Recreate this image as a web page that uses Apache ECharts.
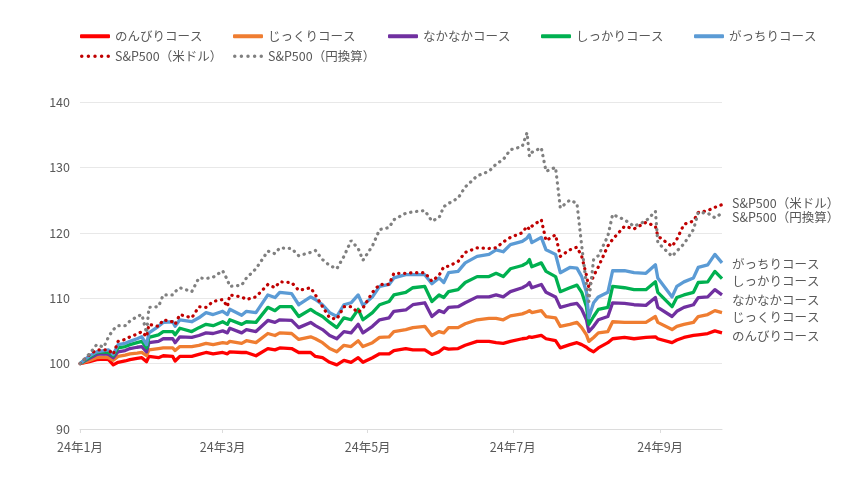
<!DOCTYPE html>
<html><head><meta charset="utf-8">
<script src="https://cdn.jsdelivr.net/npm/echarts@6/dist/echarts.min.js"></script>
<style>html,body{margin:0;padding:0;background:#fff}#c{width:860px;height:490px}</style>
</head><body><div id="c"></div>
<script>
const dates = ['2024-01-01','2024-01-05','2024-01-08','2024-01-11','2024-01-13','2024-01-15','2024-01-17','2024-01-20','2024-01-22','2024-01-25',
'2024-01-27','2024-01-29','2024-01-30','2024-02-03','2024-02-05','2024-02-09','2024-02-10','2024-02-12','2024-02-17','2024-02-20',
'2024-02-23','2024-02-26','2024-03-01','2024-03-03','2024-03-04','2024-03-09','2024-03-11','2024-03-15','2024-03-20','2024-03-23',
'2024-03-25','2024-03-30','2024-04-02','2024-04-07','2024-04-09','2024-04-12','2024-04-15','2024-04-18','2024-04-21','2024-04-24',
'2024-04-27','2024-04-29','2024-05-03','2024-05-06','2024-05-10','2024-05-12','2024-05-17','2024-05-20','2024-05-25','2024-05-28',
'2024-05-31','2024-06-02','2024-06-04','2024-06-08','2024-06-11','2024-06-16','2024-06-21','2024-06-24','2024-06-27','2024-06-30',
'2024-07-05','2024-07-07','2024-07-08','2024-07-09','2024-07-13','2024-07-15','2024-07-19','2024-07-21','2024-07-25','2024-07-28',
'2024-07-30','2024-08-01','2024-08-02','2024-08-04','2024-08-06','2024-08-10','2024-08-12','2024-08-17','2024-08-21','2024-08-26',
'2024-08-30','2024-08-31','2024-09-06','2024-09-08','2024-09-11','2024-09-15','2024-09-17','2024-09-21','2024-09-24','2024-09-27'];

const nonbiri = [100,100.3,100.6,100.7,100.6,99.8,100.2,100.4,100.6,100.8,
100.9,100.3,101.1,100.9,101.2,101.1,100.4,101.1,101.1,101.4,
101.7,101.5,101.7,101.5,101.8,101.7,101.7,101.2,102.3,102.1,
102.4,102.3,101.7,101.7,101.1,100.9,100.2,99.8,100.5,100.2,
100.9,100.2,100.9,101.5,101.5,102.0,102.3,102.1,102.1,101.4,
101.8,102.4,102.2,102.3,102.8,103.4,103.4,103.2,103.1,103.4,
103.8,103.9,104.1,104.0,104.3,103.8,103.5,102.4,102.9,103.2,
102.9,102.5,102.2,101.8,102.4,103.2,103.8,104.0,103.8,104.0,
104.1,103.8,103.2,103.6,104.0,104.3,104.4,104.6,105.0,104.7];

const jikkuri = [100,100.5,100.9,101.0,100.9,100.5,101.1,101.3,101.5,101.6,
101.7,101.2,102.1,102.3,102.4,102.4,102.0,102.6,102.6,102.8,
103.1,102.9,103.2,103.1,103.4,103.1,103.5,103.2,104.6,104.3,
104.7,104.6,103.7,104.1,103.8,103.2,102.3,101.8,102.8,102.6,
103.5,102.6,103.2,104.0,104.1,104.9,105.2,105.5,105.7,104.3,
104.9,104.7,105.5,105.5,106.1,106.7,106.9,106.9,106.7,107.3,
107.6,107.9,108.1,107.8,108.1,107.2,107.0,105.7,106.0,106.3,
105.5,104.4,103.4,104.0,104.7,104.9,106.4,106.3,106.3,106.3,
107.2,106.3,105.2,105.7,106.0,106.3,107.2,107.5,108.1,107.8];

const nakanaka = [100,100.8,101.4,101.5,101.4,100.9,101.8,102.0,102.3,102.5,
102.6,101.8,103.2,103.4,103.8,103.8,103.2,104.1,104.0,104.3,
104.7,104.6,105.0,104.7,105.4,104.7,105.2,104.9,106.6,106.3,
106.7,106.6,105.5,106.3,105.8,105.2,104.3,103.8,104.9,104.7,
106.0,104.7,105.7,106.7,107.0,108.0,108.2,109.0,109.3,107.2,
108.1,107.8,108.6,108.7,109.3,110.2,110.2,110.5,110.2,111.0,
111.6,112.0,112.4,111.6,112.1,110.9,110.2,108.6,109.0,109.2,
108.3,106.7,104.9,105.7,106.7,107.2,109.3,109.2,109.0,108.9,
110.1,108.6,107.2,108.0,108.6,109.0,110.1,110.2,111.3,110.5];

const shikkari = [100,101.0,101.7,101.8,101.7,101.2,102.4,102.6,102.9,103.2,
103.4,102.4,104.0,104.4,104.9,104.9,104.4,105.4,104.9,105.5,
106.0,105.8,106.4,106.0,106.7,106.0,106.4,106.3,108.6,108.1,
108.7,108.7,107.2,108.3,107.8,107.2,106.3,105.5,107.0,106.7,
108.3,106.7,107.8,109.0,109.5,110.5,110.9,111.6,111.8,109.5,
110.5,110.1,111.0,111.3,112.4,113.3,113.3,113.8,113.3,114.5,
115.0,115.4,115.9,114.8,115.4,114.1,113.3,111.0,111.6,112.0,
110.9,108.7,106.0,107.2,108.3,108.6,111.8,111.6,111.3,111.3,
112.5,110.9,108.7,110.1,110.5,110.9,112.4,112.5,114.1,113.0];

const gacchiri = [100,101.2,101.8,102.0,102.1,101.4,102.9,103.1,103.4,103.8,
104.1,102.9,104.7,105.7,106.3,106.4,105.7,106.7,106.4,107.0,
107.8,107.5,108.0,107.5,108.3,107.4,108.0,107.8,110.5,110.1,
110.9,110.7,109.0,110.2,109.8,109.0,107.8,107.2,109.0,109.3,
110.5,108.9,110.2,111.8,112.1,113.1,113.6,113.6,113.6,112.2,
113.1,112.4,113.9,114.1,115.4,116.4,116.7,117.4,117.1,118.2,
118.7,119.2,119.7,118.5,119.3,117.4,116.7,113.9,114.7,114.6,
113.3,110.9,107.0,109.3,110.2,110.9,114.2,114.2,113.9,113.8,
115.1,113.1,110.2,111.8,112.5,113.1,114.7,115.1,116.7,115.4];

const spUsd = [100,101.4,102.1,102.1,102.1,101.4,103.4,103.7,104.1,104.5,
104.9,104.1,106.0,105.7,106.7,106.4,106.0,107.5,107.0,108.7,
108.6,109.5,109.8,108.7,110.5,110.2,109.8,110.2,112.1,111.6,
112.5,112.4,111.2,111.6,110.5,108.7,107.0,106.8,108.7,108.7,
107.8,108.5,110.9,112.1,112.1,113.8,113.8,113.9,113.9,112.6,
113.5,114.8,114.9,115.6,117.0,117.7,117.6,117.7,118.6,119.3,
120.0,121.0,120.5,121.0,122.0,118.8,119.7,116.4,117.4,117.8,
116.4,113.5,111.6,113.4,114.8,118.0,119.0,121.0,120.6,121.6,
121.0,119.5,117.9,119.0,121.3,121.8,123.1,123.4,123.9,124.3];

const spJpy = [100,101.5,102.9,102.5,104.1,105.2,105.8,105.8,106.5,107.2,
107.5,104.7,108.6,108.7,110.5,110.5,111.0,111.6,111.0,113.1,
113.0,113.2,114.2,112.8,111.8,112.0,113.1,114.5,117.2,116.8,
117.7,117.6,116.5,117.0,117.3,115.9,115.0,114.5,116.4,118.8,
117.6,115.8,118.0,120.5,120.8,122.0,123.0,123.2,123.4,121.8,
122.3,124.0,124.5,125.3,127.0,128.7,129.4,130.5,131.2,132.7,
133.2,135.3,131.7,132.3,133.0,129.4,130.0,123.8,125.0,124.5,
118.0,112.0,109.5,115.9,116.5,119.5,122.8,122.0,121.0,121.8,
123.3,118.5,116.4,117.2,118.3,120.5,123.1,123.0,122.3,123.0];

const seriesNames = ['のんびりコース','じっくりコース','なかなかコース','しっかりコース','がっちりコース','S&P500（米ドル）','S&P500（円換算）'];
const seriesValues = [nonbiri, jikkuri, nakanaka, shikkari, gacchiri, spUsd, spJpy];
const xTickDates = ['2024-01-01','2024-03-01','2024-05-01','2024-07-01','2024-09-01'];
const xTickLabels = ['24年1月','24年3月','24年5月','24年7月','24年9月'];
const xStart = '2024-01-01', xEnd = '2024-09-27';
const yMin = 90, yMax = 140, yStep = 10;

// styles
const colors = ['#ff0000','#ef7d31','#7030a0','#00b050','#5b9bd5','#c00000','#808080'];
const dotted = [false,false,false,false,false,true,true];
const endLabelDy = [3, 5, 5, 3, 1, -1, 4];
const legendPos = [[80,30],[233,30],[388,30],[541,30],[694,30],[80,50],[233,50]];
const textColor = '#595959';
const font = "'Noto Sans CJK JP', 'Noto Sans', sans-serif";

function ts(s){ const p = s.split('-').map(Number); return Date.UTC(p[0], p[1]-1, p[2]); }
const tickTs = xTickDates.map(ts);

const dotPath = 'path://M0 1.75a1.75 1.75 0 1 0 3.5 0a1.75 1.75 0 1 0 -3.5 0Z' +
  'M6.625 1.75a1.75 1.75 0 1 0 3.5 0a1.75 1.75 0 1 0 -3.5 0Z' +
  'M13.25 1.75a1.75 1.75 0 1 0 3.5 0a1.75 1.75 0 1 0 -3.5 0Z' +
  'M19.875 1.75a1.75 1.75 0 1 0 3.5 0a1.75 1.75 0 1 0 -3.5 0Z' +
  'M26.5 1.75a1.75 1.75 0 1 0 3.5 0a1.75 1.75 0 1 0 -3.5 0Z';

const legends = seriesNames.map((n, i) => ({
  data: [n], left: legendPos[i][0], top: legendPos[i][1], padding: 0, itemGap: 0,
  itemWidth: 30, itemHeight: dotted[i] ? 3.5 : 4,
  icon: dotted[i] ? dotPath : 'roundRect',
  itemStyle: { borderWidth: 0 },
  selectedMode: false,
  textStyle: { fontSize: 12.5, color: textColor, fontFamily: font }
}));

const series = seriesNames.map((n, i) => ({
  name: n, type: 'line', symbol: 'none', showSymbol: false,
  data: dates.map((d, j) => [ts(d), seriesValues[i][j]]),
  color: colors[i],
  lineStyle: dotted[i]
    ? { width: 3.2, color: colors[i], type: [0.3, 5.7], cap: 'round' }
    : { width: 3.3, color: colors[i], join: 'round' },
  emphasis: { disabled: true },
  endLabel: { show: true, formatter: '{a}', color: textColor, fontSize: 12.5, fontFamily: font,
              distance: 10, offset: [0, endLabelDy[i]] },
  z: dotted[i] ? 3 : 2
}));

const chart = echarts.init(document.getElementById('c'), null, { renderer: 'canvas' });
chart.setOption({
  animation: false,
  backgroundColor: '#fff',
  textStyle: { fontFamily: font },
  legend: legends,
  grid: { left: 80, right: 138, top: 102, bottom: 61 },
  xAxis: {
    type: 'value', min: ts(xStart), max: ts(xEnd),
    axisLine: { lineStyle: { color: '#dcdcdc', width: 1 } },
    axisTick: { show: true, customValues: tickTs, length: 4, lineStyle: { color: '#dcdcdc' } },
    axisLabel: { customValues: tickTs, color: textColor, fontSize: 12.5, margin: 12,
      formatter: v => { const k = tickTs.indexOf(v); return k >= 0 ? xTickLabels[k] : ''; } },
    splitLine: { show: false }
  },
  yAxis: {
    type: 'value', min: yMin, max: yMax, interval: yStep,
    axisLine: { show: false }, axisTick: { show: false },
    axisLabel: { color: textColor, fontSize: 12.5, margin: 10 },
    splitLine: { lineStyle: { color: '#e8e8e8', width: 1 } }
  },
  series: series
});
</script></body></html>
